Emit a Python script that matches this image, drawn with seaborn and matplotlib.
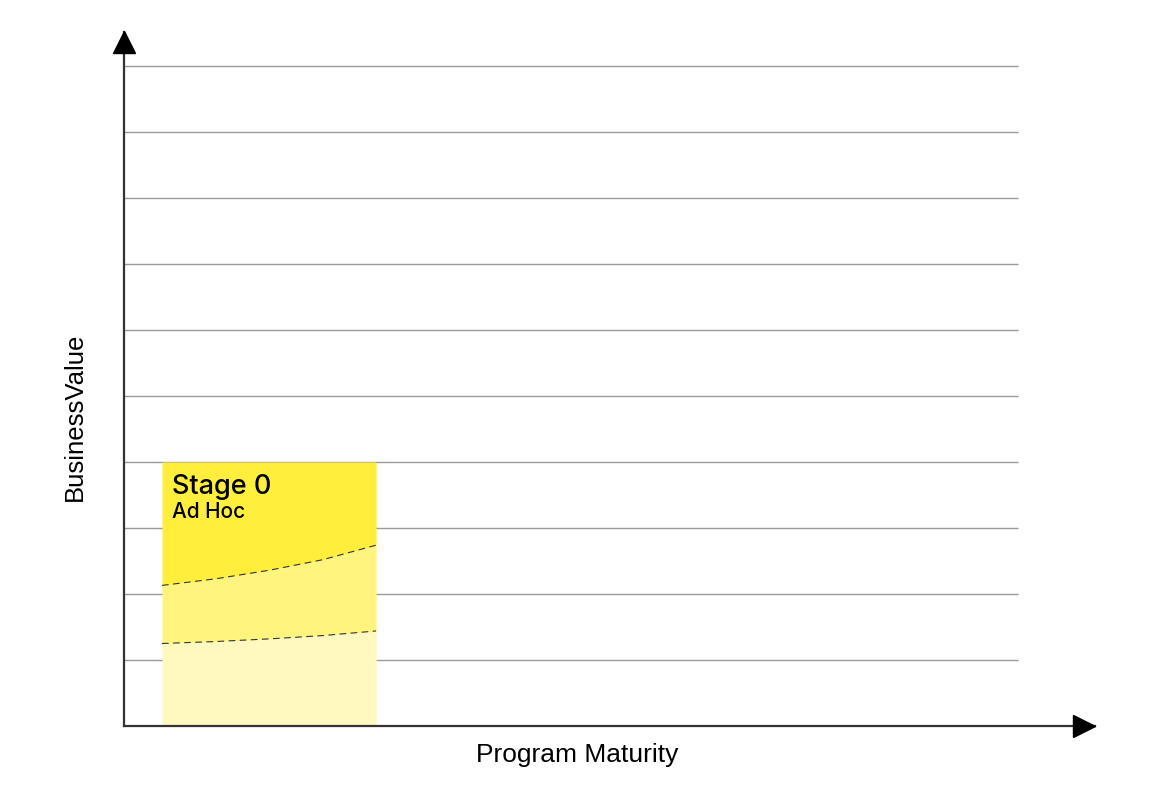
import numpy as np
import pandas as pd
import matplotlib.pyplot as plt
import seaborn as sns

# values (y: business value units, x: maturity units)
grid_levels = [1, 2, 3, 4, 5, 6, 7, 8, 9, 10]
stage_name = "Stage 0"
stage_sub = "Ad Hoc"
stage_left = 0.425
stage_right = 2.82
stage_top = 4.0
curve_x = [0.425, 1.025, 1.625, 2.225, 2.82]
upper_curve = [2.13, 2.23, 2.36, 2.52, 2.74]
lower_curve = [1.25, 1.28, 1.32, 1.37, 1.44]

col_top = "#FFEE3B"
col_mid = "#FFF47D"
col_low = "#FFF9BF"

sns.set_style("white")
plt.rcParams['font.family'] = ['Liberation Sans', 'DejaVu Sans']
plt.rcParams['text.color'] = 'black'
plt.rcParams['axes.labelcolor'] = 'black'

fig = plt.figure(figsize=(11.6, 8), dpi=100)
ax = fig.add_axes([124 / 1160, 74 / 800, 971 / 1160, 694 / 800])
ax.set_xlim(0, 971 / 89.4)
ax.set_ylim(0, 694 / 66)

ax.hlines(grid_levels, 0, 10, color="#9a9a9a", lw=1, zorder=1)

curves = pd.DataFrame({"x": curve_x, "upper": upper_curve, "lower": lower_curve})
ax.fill_between(curves["x"], 0, curves["lower"], color=col_low, lw=0, zorder=2)
ax.fill_between(curves["x"], curves["lower"], curves["upper"], color=col_mid, lw=0, zorder=2)
ax.fill_between(curves["x"], curves["upper"], stage_top, color=col_top, lw=0, zorder=2)
for col in ["upper", "lower"]:
    sns.lineplot(data=curves, x="x", y=col, ax=ax, color="#333333", lw=0.8,
                 dashes=False, zorder=3)
    ax.lines[-1].set_dashes((6, 4))

ax.text(stage_left + 0.11, 3.515, stage_name, fontsize=19.5, fontweight=500,
        family=["Inter", "Liberation Sans"], va="baseline", ha="left", zorder=4)
ax.text(stage_left + 0.11, 3.15, stage_sub, fontsize=15, fontweight=500,
        family=["Inter", "Liberation Sans"], va="baseline", ha="left", zorder=4)

for s in ["top", "right"]:
    ax.spines[s].set_visible(False)
for s in ["left", "bottom"]:
    ax.spines[s].set_color("#333333")
    ax.spines[s].set_linewidth(1.6)
ax.set_xticks([])
ax.set_yticks([])

# arrow heads at the end of the axes
ax.plot(0, (726 - 42) / 66, "^k", ms=16, clip_on=False, zorder=5)
ax.plot((1084 - 124) / 89.4, 0, ">k", ms=16, clip_on=False, zorder=5)

ax.set_xlabel("Program Maturity", fontsize=19, va="top")
ax.xaxis.set_label_coords((577 - 124) / 971, -17 / 694)
ax.set_ylabel("BusinessValue", fontsize=18.5)
ax.yaxis.set_label_coords(-37 / 971, (726 - 417) / 694)

fig.savefig("out.png", dpi=100, facecolor="white")
